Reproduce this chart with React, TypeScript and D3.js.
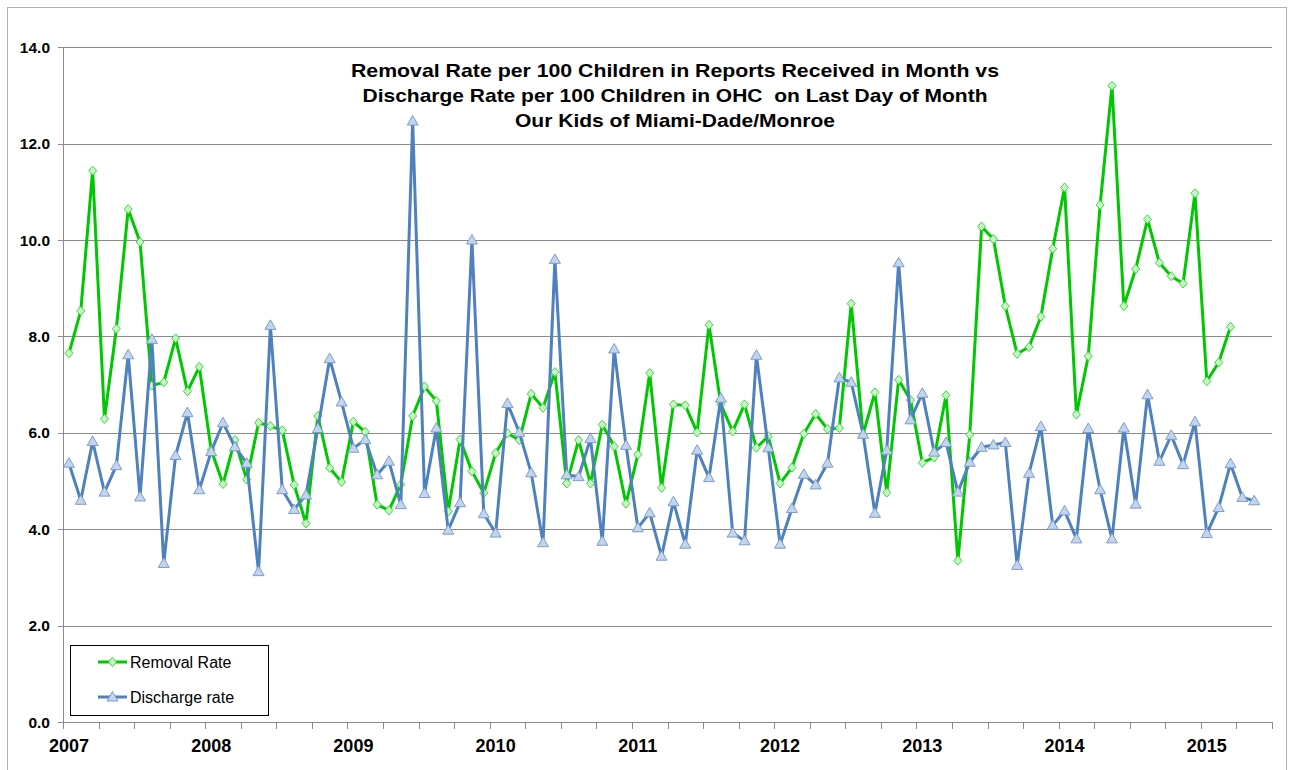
import React from "react";
import * as d3 from "d3";

const yearLabels = ["2007", "2008", "2009", "2010", "2011", "2012", "2013", "2014", "2015"];
const monthCount = 102; // Jan 2007 .. Jun 2015 category slots
const yTicks = [0, 2, 4, 6, 8, 10, 12, 14];

const removalRate = [
  7.65, 8.53, 11.44, 6.29, 8.16, 10.64, 9.96, 6.98, 7.05, 7.96, 6.86, 7.37,
  5.65, 4.94, 5.85, 5.03, 6.21, 6.14, 6.05, 4.92, 4.12, 6.35, 5.27, 4.98,
  6.23, 6.02, 4.51, 4.39, 4.93, 6.35, 6.96, 6.66, 4.37, 5.86, 5.2, 4.75,
  5.58, 5.99, 5.85, 6.81, 6.52, 7.26, 4.95, 5.85, 4.95, 6.17, 5.72, 4.53,
  5.55, 7.24, 4.86, 6.59, 6.57, 6.01, 8.24, 6.59, 6.03, 6.59, 5.69, 5.93,
  4.95, 5.28, 5.98, 6.39, 6.08, 6.1, 8.68, 5.97, 6.84, 4.76, 7.1, 6.68,
  5.38, 5.49, 6.78, 3.35, 5.96, 10.28, 10.02, 8.63, 7.64, 7.78, 8.41, 9.82,
  11.09, 6.38, 7.59, 10.73, 13.2, 8.63, 9.4, 10.43, 9.53, 9.25, 9.1, 10.97,
  7.07, 7.46, 8.2,
];

const dischargeRate = [
  5.37, 4.6, 5.82, 4.77, 5.32, 7.62, 4.67, 7.94, 3.29, 5.53, 6.42, 4.82,
  5.61, 6.21, 5.71, 5.37, 3.12, 8.23, 4.82, 4.41, 4.71, 6.09, 7.54, 6.64,
  5.68, 5.86, 5.13, 5.41, 4.51, 12.47, 4.74, 6.1, 3.98, 4.55, 10.0, 4.32,
  3.92, 6.61, 6.01, 5.17, 3.72, 9.6, 5.13, 5.09, 5.88, 3.75, 7.74, 5.74,
  4.03, 4.34, 3.44, 4.57, 3.69, 5.64, 5.07, 6.72, 3.92, 3.76, 7.61, 5.69,
  3.69, 4.43, 5.14, 4.92, 5.37, 7.14, 7.05, 5.97, 4.33, 5.64, 9.53, 6.27,
  6.82, 5.6, 5.8, 4.77, 5.39, 5.7, 5.75, 5.8, 3.25, 5.16, 6.13, 4.08,
  4.38, 3.8, 6.09, 4.82, 3.8, 6.1, 4.52, 6.79, 5.41, 5.95, 5.34, 6.23,
  3.91, 4.45, 5.36, 4.66, 4.59,
];

const titleLines = [
  "Removal Rate per 100 Children in Reports Received in Month vs",
  "Discharge Rate per 100 Children in OHC  on Last Day of Month",
  "Our Kids of Miami-Dade/Monroe",
];
const titleWidths = [648, 625, 320];

const W = 1294;
const H = 770;
const left = 63;
const right = 1272;
const top = 47.3;
const bottom = 722;
const FONT = "'Liberation Sans', Arial, Helvetica, sans-serif";

const GREEN = "#00c800";
const GREEN_FILL = "#c8f5c8";
const GREEN_STROKE = "#3ad83a";
const BLUE = "#4f81bd";
const BLUE_FILL = "#c3d5ec";
const BLUE_STROKE = "#7d9ccb";

const diamond = "M0,-4.5L4,0L0,4.5L-4,0Z";
const triangle = "M0,-5.5L5.5,4L-5.5,4Z";

export default function App() {
  const categories = d3.range(monthCount);
  const x = d3.scaleBand<number>().domain(categories).range([left, right]).padding(0);
  const bw = x.bandwidth();
  const cx = (i: number) => (x(i) as number) + bw / 2;
  const y = d3.scaleLinear().domain([0, 14]).range([bottom, top]);

  const line = d3
    .line<number>()
    .x((_, i) => cx(i))
    .y((d) => y(d));

  const quarterTicks = d3.range(0, monthCount + 1, 3);

  return (
    <svg
      width={W}
      height={H}
      style={{ position: "absolute", left: 0, top: 0, background: "#fff" }}
      fontFamily={FONT}
    >
      <rect x={7.5} y={7.5} width={1279} height={775} fill="#fff" stroke="#b0b0b0" strokeWidth={1} />

      {/* gridlines */}
      {yTicks.slice(1).map((t) => (
        <line key={t} x1={left} x2={right} y1={Math.round(y(t)) + 0.5} y2={Math.round(y(t)) + 0.5} stroke="#8a8a8a" strokeWidth={1} />
      ))}

      {/* y axis */}
      <line x1={left + 0.5} x2={left + 0.5} y1={top} y2={bottom} stroke="#8a8a8a" />
      {yTicks.map((t) => (
        <g key={t}>
          <line x1={left - 5} x2={left} y1={Math.round(y(t)) + 0.5} y2={Math.round(y(t)) + 0.5} stroke="#8a8a8a" />
          <text x={50} y={y(t)} dy="0.36em" textAnchor="end" fontSize={15.5} fontWeight="bold" fill="#000">
            {t.toFixed(1)}
          </text>
        </g>
      ))}

      {/* x axis */}
      <line x1={left} x2={right} y1={bottom + 0.5} y2={bottom + 0.5} stroke="#8a8a8a" />
      {quarterTicks.map((q) => {
        const xp = Math.round(left + q * bw) + 0.5;
        return <line key={q} x1={xp} x2={xp} y1={bottom} y2={bottom + 7} stroke="#8a8a8a" />;
      })}
      {yearLabels.map((lab, k) => (
        <text key={lab} x={cx(k * 12)} y={752} textAnchor="middle" fontSize={18} fontWeight="bold" fill="#000">
          {lab}
        </text>
      ))}

      {/* series */}
      <path d={line(removalRate) || ""} fill="none" stroke={GREEN} strokeWidth={3} strokeLinejoin="round" />
      {removalRate.map((v, i) => (
        <path key={"r" + i} d={diamond} transform={`translate(${cx(i)},${y(v)})`} fill={GREEN_FILL} stroke={GREEN_STROKE} strokeWidth={1} />
      ))}
      <path d={line(dischargeRate) || ""} fill="none" stroke={BLUE} strokeWidth={3} strokeLinejoin="round" />
      {dischargeRate.map((v, i) => (
        <path key={"d" + i} d={triangle} transform={`translate(${cx(i)},${y(v)})`} fill={BLUE_FILL} stroke={BLUE_STROKE} strokeWidth={1} />
      ))}

      {/* title */}
      {titleLines.map((t, k) => (
        <text
          key={k}
          x={675}
          y={77 + k * 25}
          textAnchor="middle"
          fontSize={19}
          fontWeight="bold"
          fill="#000"
          textLength={titleWidths[k]}
          lengthAdjust="spacingAndGlyphs"
          style={{ whiteSpace: "pre" }}
        >
          {t}
        </text>
      ))}

      {/* legend */}
      <rect x={70.5} y={645.5} width={198} height={70} fill="#fff" stroke="#000" strokeWidth={1} />
      <line x1={98} x2={127} y1={662} y2={662} stroke={GREEN} strokeWidth={3} />
      <path d={diamond} transform="translate(112.5,662)" fill={GREEN_FILL} stroke={GREEN_STROKE} />
      <text x={130} y={667.5} fontSize={16} fill="#000">Removal Rate</text>
      <line x1={98} x2={127} y1={697} y2={697} stroke={BLUE} strokeWidth={3} />
      <path d={triangle} transform="translate(112.5,697)" fill={BLUE_FILL} stroke={BLUE_STROKE} />
      <text x={130} y={702.5} fontSize={16} fill="#000">Discharge rate</text>
    </svg>
  );
}
